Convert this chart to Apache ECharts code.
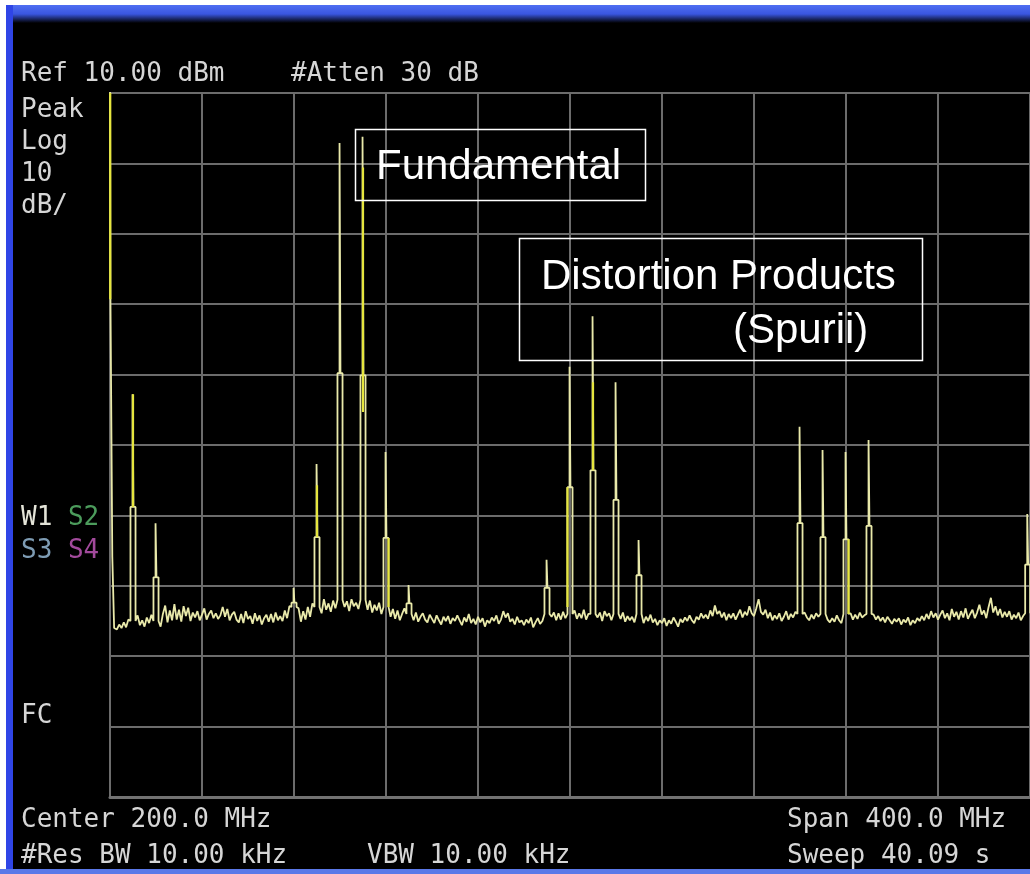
<!DOCTYPE html>
<html><head><meta charset="utf-8">
<script src="https://cdn.jsdelivr.net/npm/echarts@6/dist/echarts.min.js"></script>
<style>html,body{margin:0;padding:0;background:#000}#c{width:1030px;height:874px}</style>
</head><body><div id="c"></div>
<script>
// ---- axis settings ----
const freqMinMHz = 0, freqMaxMHz = 400, freqDivMHz = 40;
const levelMinDbm = -90, levelMaxDbm = 10, dbPerDiv = 10;

// ---- noise floor, one reading per MHz (0..400 MHz) ----
const noiseStepMHz = 1;
const noiseLevels = [
-65.0,-65.0,-65.8,-66.2,-65.5,-66.0,-65.2,-65.9,-64.8,-65.6,
-65.0,-64.8,-64.2,-65.6,-64.9,-65.8,-64.5,-65.3,-64.1,-65.9,
-65.0,-63.2,-65.8,-64.0,-62.8,-65.2,-63.5,-64.9,-62.6,-64.8,
-63.4,-65.1,-62.9,-64.3,-63.1,-65.0,-63.8,-64.5,-63.6,-64.9,
-64.1,-63.2,-64.8,-64.0,-63.5,-64.6,-63.9,-64.7,-64.2,-63.0,
-64.4,-63.3,-64.9,-64.1,-63.7,-64.8,-65.2,-64.0,-65.3,-63.6,
-64.7,-64.3,-65.4,-63.9,-65.0,-64.2,-65.5,-64.6,-64.1,-65.1,
-64.0,-65.2,-63.8,-64.9,-64.3,-65.0,-63.5,-64.6,-62.9,-63.8,
-63.0,-64.5,-63.2,-65.1,-63.6,-64.8,-63.0,-64.4,-62.5,-63.8,
-63.0,-62.3,-63.9,-61.9,-63.4,-62.5,-63.7,-62.1,-63.2,-62.0,
-62.0,-61.8,-63.0,-62.2,-63.6,-61.9,-62.9,-62.4,-63.3,-62.0,
-62.0,-62.6,-63.4,-62.1,-63.8,-62.7,-63.5,-62.4,-64.0,-63.1,
-63.0,-63.6,-64.4,-63.3,-64.7,-63.5,-64.9,-64.0,-63.2,-64.6,
-64.0,-64.3,-64.9,-63.8,-65.1,-64.4,-63.9,-64.8,-65.2,-64.1,
-64.7,-65.3,-64.2,-64.9,-65.5,-64.4,-65.0,-64.3,-65.4,-64.6,
-65.0,-64.2,-64.9,-65.6,-64.5,-65.1,-64.0,-65.3,-64.7,-65.5,
-64.4,-65.2,-64.6,-65.8,-64.9,-65.3,-64.5,-65.0,-64.2,-65.4,
-64.8,-63.6,-64.5,-63.9,-65.1,-64.7,-65.5,-64.4,-65.2,-64.9,
-65.6,-64.8,-65.3,-64.5,-65.9,-65.2,-64.6,-65.4,-65.0,-64.3,
-64.0,-65.1,-64.4,-63.8,-64.9,-63.9,-64.8,-63.7,-64.6,-63.6,
-64.0,-64.1,-63.5,-64.7,-63.9,-64.6,-63.4,-64.8,-64.0,-63.7,
-64.0,-63.2,-64.5,-63.8,-65.0,-63.6,-64.3,-63.9,-64.9,-64.2,
-64.0,-63.5,-64.7,-63.8,-65.1,-64.3,-64.9,-64.4,-65.2,-64.6,
-64.0,-64.8,-65.3,-64.4,-65.0,-64.1,-65.2,-64.7,-65.6,-64.9,
-65.3,-64.6,-65.7,-64.9,-65.4,-64.5,-65.1,-65.8,-64.7,-65.2,
-64.5,-65.0,-64.2,-64.9,-65.3,-64.4,-64.8,-63.9,-64.6,-64.1,
-64.7,-63.5,-64.3,-62.8,-64.0,-63.6,-64.5,-63.8,-64.9,-64.0,
-64.6,-63.9,-64.8,-64.1,-63.4,-64.5,-63.7,-64.2,-62.9,-63.9,
-64.3,-63.2,-61.9,-63.7,-64.1,-63.4,-64.6,-63.8,-64.9,-64.2,
-64.7,-63.9,-65.0,-64.4,-63.6,-64.8,-64.0,-64.5,-63.7,-64.3,
-64.0,-64.6,-63.8,-64.5,-64.9,-64.1,-64.7,-63.9,-64.4,-64.0,
-64.0,-64.3,-64.8,-65.2,-64.6,-65.1,-64.2,-64.9,-65.3,-64.5,
-64.0,-64.4,-63.9,-64.8,-64.1,-64.7,-63.8,-64.5,-64.2,-64.9,
-64.0,-64.6,-64.1,-64.8,-64.3,-65.0,-64.5,-65.2,-64.4,-64.9,
-65.4,-64.7,-65.1,-64.6,-65.5,-64.8,-65.2,-64.5,-65.6,-64.9,
-65.3,-64.6,-65.0,-64.3,-64.9,-64.0,-64.7,-63.6,-64.5,-63.9,
-64.8,-64.1,-63.5,-64.6,-63.9,-64.9,-63.3,-64.4,-63.7,-64.8,
-63.6,-64.5,-63.2,-64.7,-64.0,-63.4,-64.6,-63.8,-62.7,-64.1,
-63.5,-64.6,-63.0,-61.7,-63.8,-62.9,-64.2,-63.3,-64.5,-63.7,
-64.4,-63.6,-64.8,-64.1,-64.6,-63.8,-64.9,-64.3,-64.7,-63.9,
-64.5
];

// ---- carrier feedthrough at 0 MHz (goes off the top) : [MHz, dBm] ----
const carrierTrace = [[0,15],[0.2,-19.3],[0.9,-19.3],[1.0,-55.9],[1.6,-55.9],[1.8,-66.0]];

// ---- discrete spectral lines ----
const spikeFreqs     = [10, 20, 80, 90, 100, 110, 120, 130, 190, 200, 210, 220, 230, 300, 310, 320, 330, 399];
const spikePeaks     = [-32.8,-51.1,-60.3,-42.7, 2.9, 3.8,-41.0,-59.9,-56.3,-28.9,-21.7,-31.1,-53.5,-37.4,-40.7,-41.0,-39.3,-49.8];
const spikeShoulders = [-48.8,-58.8,-62.4,-53.1,-29.8,-30.1,-53.2,-62.5,-60.3,-46.0,-43.6,-47.8,-58.5,-51.1,-53.1,-53.4,-51.5,-57.0];

// ---- brighter yellow stretches of the trace ----
const brightFreqs   = [0.1, 10, 90, 110, 121.1, 198.9, 210, 321.1];
const brightTops    = [10, -32.8, -45.7, -0.6, -53.2, -46.0, -31.1, -53.4];
const brightBottoms = [-19.3, -48.8, -53.1, -35.3, -63.0, -63.0, -43.6, -64.0];

// ---- texts ----
const headerTexts = ['Ref 10.00 dBm', '#Atten 30 dB'];
const leftLabels = ['Peak', 'Log', '10', 'dB/'];
const traceLabels = ['W1', 'S2', 'S3', 'S4'];
const footerTexts = ['Center 200.0 MHz', 'Span 400.0 MHz', '#Res BW 10.00 kHz', 'VBW 10.00 kHz', 'Sweep 40.09 s'];
const annotationTexts = ['Fundamental', 'Distortion Products', '(Spurii)'];

// ---- build trace ----
const spikeHalf = 1.1, peakHalf = 0.2;
const trace = [];
carrierTrace.forEach(p => trace.push(p));
noiseLevels.forEach((v, i) => {
  const f = freqMinMHz + i * noiseStepMHz;
  if (f < 2) return;
  if (spikeFreqs.some(sf => Math.abs(f - sf) < 1.6)) return;
  trace.push([f, v]);
});
spikeFreqs.forEach((f, k) => {
  const base = noiseLevels[Math.round((f - freqMinMHz) / noiseStepMHz)];
  const p = spikePeaks[k], s = spikeShoulders[k];
  trace.push([f - spikeHalf, base], [f - spikeHalf, s], [f - peakHalf, s], [f - peakHalf, p],
             [f + peakHalf, p], [f + peakHalf, s], [f + spikeHalf, s], [f + spikeHalf, base]);
});
trace.sort((a, b) => a[0] - b[0]);

const bright = [];
brightFreqs.forEach((f, k) => { bright.push([f, brightTops[k]], [f, brightBottoms[k]], [f, '-']); });

const mono = '26px "DejaVu Sans Mono"';
const sans = '42px "Liberation Sans", Arial, sans-serif';
const txtCol = '#d6d6d6';
function T(text, x, y, fill, font) {
  return { type: 'text', z: 100, x: x, y: y, silent: true,
    style: { text: text, fill: fill || txtCol, font: font || mono,
      align: 'left', verticalAlign: 'middle', textAlign: 'left', textVerticalAlign: 'middle' } };
}
const cw = 15.65;
const graphics = [
  { type: 'rect', z: 90, shape: { x: 0, y: 0, width: 1030, height: 5 }, style: { fill: '#ffffff' } },
  { type: 'rect', z: 90, shape: { x: 0, y: 5, width: 1030, height: 18 },
    style: { fill: new echarts.graphic.LinearGradient(0, 0, 0, 1, [
      { offset: 0, color: '#4f6ef2' }, { offset: 0.5, color: '#3a56e0' }, { offset: 1, color: '#000000' }]) } },
  { type: 'rect', z: 91, shape: { x: 0, y: 0, width: 6, height: 874 }, style: { fill: '#ffffff' } },
  { type: 'rect', z: 91, shape: { x: 6, y: 5, width: 7, height: 869 }, style: { fill: '#2f45e6' } },
  { type: 'rect', z: 91, shape: { x: 0, y: 869, width: 1030, height: 5 }, style: { fill: '#5a78e8' } },
  T(headerTexts[0], 21, 74), T(headerTexts[1], 291, 74),
  T(leftLabels[0], 21, 110), T(leftLabels[1], 21, 142), T(leftLabels[2], 21, 174.5), T(leftLabels[3], 21, 206),
  T(traceLabels[0], 21, 518, '#e4e4d8'), T(traceLabels[1], 21 + 3 * cw, 518, '#4c9c5c'),
  T(traceLabels[2], 21, 551, '#7e9cb4'), T(traceLabels[3], 21 + 3 * cw, 551, '#a24a9c'),
  T('FC', 21, 716),
  T(footerTexts[0], 21, 820), T(footerTexts[1], 787, 820),
  T(footerTexts[2], 21, 856), T(footerTexts[3], 367, 856), T(footerTexts[4], 787, 856),
  { type: 'rect', z: 100, shape: { x: 355.5, y: 129.5, width: 290, height: 71 },
    style: { fill: 'transparent', stroke: '#ffffff', lineWidth: 1.5 } },
  { type: 'rect', z: 100, shape: { x: 519.5, y: 238.5, width: 403, height: 122 },
    style: { fill: 'transparent', stroke: '#ffffff', lineWidth: 1.5 } },
  T(annotationTexts[0], 376, 167, '#ffffff', sans),
  T(annotationTexts[1], 541, 277, '#ffffff', sans),
  T(annotationTexts[2], 733, 331, '#ffffff', sans)
];

const chart = echarts.init(document.getElementById('c'), null, { renderer: 'canvas' });
chart.setOption({
  backgroundColor: '#000000',
  animation: false,
  grid: { left: 110, top: 93, width: 920, height: 704, show: false },
  xAxis: { type: 'value', min: freqMinMHz, max: freqMaxMHz, interval: freqDivMHz,
    axisLabel: { show: false }, axisTick: { show: false },
    axisLine: { show: true, onZero: false, lineStyle: { color: '#727272', width: 3 } },
    splitLine: { show: true, lineStyle: { color: '#6c6c6c', width: 2 } } },
  yAxis: { type: 'value', min: levelMinDbm, max: levelMaxDbm, interval: dbPerDiv,
    axisLabel: { show: false }, axisTick: { show: false },
    axisLine: { show: true, onZero: false, lineStyle: { color: '#6c6c6c', width: 2 } },
    splitLine: { show: true, lineStyle: { color: '#6c6c6c', width: 2 } } },
  series: [
    { type: 'line', data: trace, symbol: 'none', clip: true, z: 3,
      lineStyle: { color: '#e9e9aa', width: 1.8 } },
    { type: 'line', data: bright, symbol: 'none', clip: true, z: 4, connectNulls: false,
      lineStyle: { color: '#e6e63e', width: 2.2 } }
  ],
  graphic: graphics
});
</script></body></html>
